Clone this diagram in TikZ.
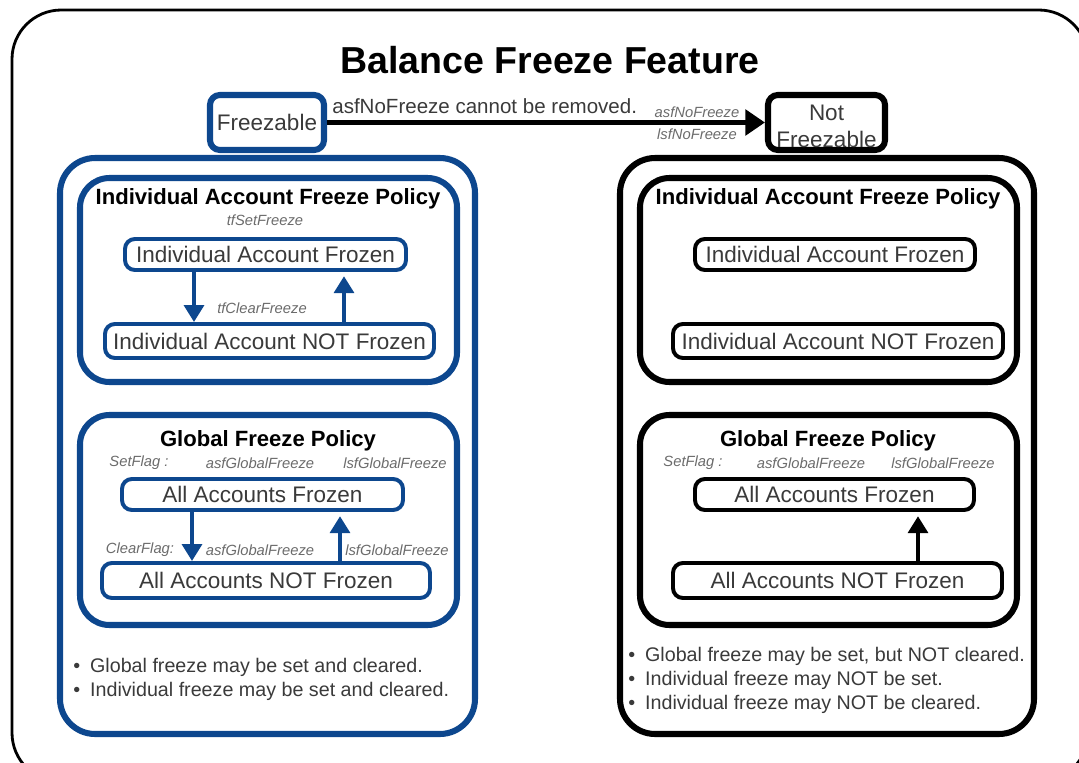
\documentclass[tikz,border=0pt]{standalone}
\usepackage{fontspec}
\setmainfont{Liberation Sans}
\usetikzlibrary{arrows.meta,positioning}
\definecolor{freezeblue}{HTML}{0D478E}
\definecolor{statetext}{HTML}{3A3A3A}
\definecolor{flaggray}{HTML}{6B6B6B}
\tikzset{every node/.append style={align=center}}
\newcommand{\bitem}{\makebox[12pt][l]{\textbullet}}

\begin{document}
\begin{tikzpicture}[x=0.025cm, y=-0.025cm, >=Latex,
  sz/.style 2 args={minimum width=#1*0.025cm, minimum height=#2*0.025cm, inner sep=0pt},
  group/.style={draw=#1, line width=4.3pt, rounded corners=25pt},
  policy/.style={draw=#1, line width=4.3pt, rounded corners=21pt},
  state/.style={draw=#1, line width=2.8pt, rounded corners=7pt, fill=white, text=statetext, font=\fontsize{16}{19}\selectfont},
  ptitle/.style={font=\fontsize{15.7}{18}\selectfont\bfseries},
  flag/.style={font=\fontsize{10.5}{12}\selectfont\itshape, text=flaggray},
  notes/.style={align=left, anchor=north west, text=statetext, font=\fontsize{14}{17}\selectfont, inner sep=0pt},
  flow/.style={draw=#1, line width=2.8pt, -{Triangle[length=12pt,width=14pt]}}]
  \useasboundingbox (0,0) rectangle (1079,763);
  \node[draw, line width=2pt, rounded corners=35pt, sz={1076}{772}] (frame) at (550,396) {};
  \node[font=\fontsize{26.7}{30}\selectfont\bfseries] (title) at (550,60) {Balance Freeze Feature};

  % freezable side
  \node[group=freezeblue, sz={415}{576}] (lgroup) at (267.5,446) {};
  \node[state=freezeblue, line width=4.3pt, sz={114}{55}] (freezable) at (267,122.5) {Freezable};
  \node[policy=freezeblue, sz={377}{204}] (lindiv) at (268.5,280) {};
  \node[ptitle] (lindivtitle) at (268,199) {Individual Account Freeze Policy};
  \node[flag] (lsetfreeze) at (265,220) {tfSetFreeze};
  \node[state=freezeblue, sz={281}{31}] (lfrozen) at (265.5,254.5) {Individual Account Frozen};
  \node[state=freezeblue, sz={329}{34}] (lnotfrozen) at (269.5,341) {Individual Account NOT Frozen};
  \node[flag] (lclearfreeze) at (262,308) {tfClearFreeze};
  \draw[flow=freezeblue] (lfrozen.south -| 194,0) -- (lnotfrozen.north -| 194,0);
  \draw[flow=freezeblue] (lnotfrozen.north -| 344,0) -- ([yshift=-3pt]lfrozen.south -| 344,0);

  \node[policy=freezeblue, sz={377}{210}] (lglobal) at (268.5,520) {};
  \node[ptitle] (lglobaltitle) at (268,441) {Global Freeze Policy};
  \node[flag] (lsetflag) at (139,463) {SetFlag :};
  \node[flag] (lsetasf) at (260,463) {asfGlobalFreeze};
  \node[flag] (lsetlsf) at (395,463) {lsfGlobalFreeze};
  \node[state=freezeblue, sz={281}{31}] (lallfrozen) at (262.5,494.5) {All Accounts Frozen};
  \node[state=freezeblue, sz={328}{35}] (lallnot) at (266,580.5) {All Accounts NOT Frozen};
  \node[flag] (lclearflag) at (140,550) {ClearFlag:};
  \node[flag] (lclearasf) at (260,550) {asfGlobalFreeze};
  \node[flag] (lclearlsf) at (397,550) {lsfGlobalFreeze};
  \draw[flow=freezeblue] (lallfrozen.south -| 192,0) -- (lallnot.north -| 192,0);
  \draw[flow=freezeblue] (lallnot.north -| 340,0) -- ([yshift=-3pt]lallfrozen.south -| 340,0);

  \node[notes] (lnotes) at (73,658) {\bitem Global freeze may be set and cleared.\\
    \bitem Individual freeze may be set and cleared.};

  % not freezable side
  \node[group=black, sz={414}{576}] (rgroup) at (827,446) {};
  \node[state=black, line width=4.3pt, sz={117}{55}] (notfreezable) at (826.5,122.5) {\rule{0pt}{17pt}Not\\Freezable};
  \node[policy=black, sz={377}{204}] (rindiv) at (828.5,280) {};
  \node[ptitle] (rindivtitle) at (828,199) {Individual Account Freeze Policy};
  \node[state=black, sz={280}{31}] (rfrozen) at (835,254.5) {Individual Account Frozen};
  \node[state=black, sz={330}{34}] (rnotfrozen) at (838,341) {Individual Account NOT Frozen};

  \node[policy=black, sz={377}{210}] (rglobal) at (828.5,520) {};
  \node[ptitle] (rglobaltitle) at (828,441) {Global Freeze Policy};
  \node[flag] (rsetflag) at (693,463) {SetFlag :};
  \node[flag] (rsetasf) at (811,463) {asfGlobalFreeze};
  \node[flag] (rsetlsf) at (943,463) {lsfGlobalFreeze};
  \node[state=black, sz={279}{31}] (rallfrozen) at (834.5,494.5) {All Accounts Frozen};
  \node[state=black, sz={329}{35}] (rallnot) at (837.5,580.5) {All Accounts NOT Frozen};
  \draw[flow=black] (rallnot.north -| 918,0) -- ([yshift=-3pt]rallfrozen.south -| 918,0);

  \node[notes] (rnotes) at (628,647) {\bitem Global freeze may be set, but NOT cleared.\\
    \bitem Individual freeze may NOT be set.\\
    \bitem Individual freeze may NOT be cleared.};

  % one-way switch
  \draw[flow=black, line width=3.6pt, -{Triangle[length=14pt,width=18pt]}] (freezable.east) -- (notfreezable.west)
    node[pos=0.36, above=1pt, text=statetext, font=\fontsize{14.6}{17}\selectfont] (noremove) {asfNoFreeze cannot be removed.};
  \node[flag] (asfnofreeze) at (697,112) {asfNoFreeze};
  \node[flag] (lsfnofreeze) at (697,134) {lsfNoFreeze};
\end{tikzpicture}
\end{document}
